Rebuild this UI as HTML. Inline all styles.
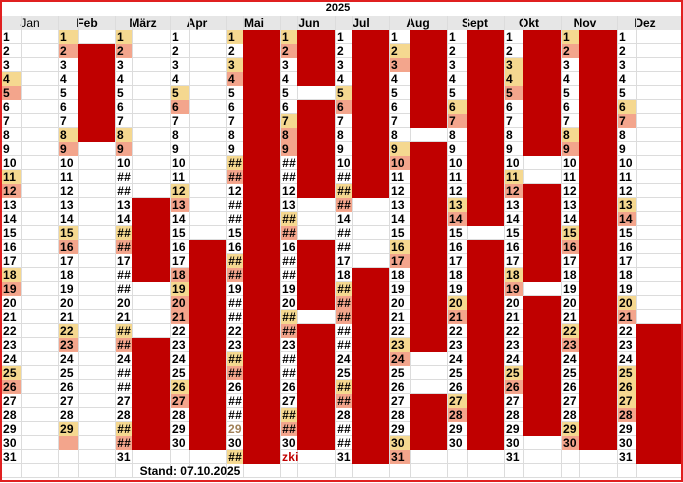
<!DOCTYPE html>
<html><head><meta charset="utf-8"><style>
*{margin:0;padding:0;box-sizing:border-box}
body{width:683px;height:483px;background:#fff;position:relative;overflow:hidden;font-family:"Liberation Sans",sans-serif}
.frame{position:absolute;left:0;top:0;width:683px;height:482px;border:2px solid #e02020}
.title{position:absolute;left:300px;top:1px;width:76px;text-align:center;font:bold 11px "Liberation Sans",sans-serif;line-height:14px}
.hdr{position:absolute;left:2px;top:16px;width:679px;height:14px;background:#e6e6e6}
.hdr span{position:absolute;top:0;font:bold 12px "Liberation Sans",sans-serif;line-height:14px;width:56px;text-align:center}
.grid{position:absolute;left:2px;top:30px;width:679px;height:448px;background:repeating-linear-gradient(to bottom,transparent 0 13px,#dcdcdc 13px 14px)}
.v{position:absolute;top:16px;height:462px;width:1px;background:#dcdcdc}
.col{position:absolute;top:30px}
.col b{display:block;height:14px;line-height:14px;font-size:12px;font-weight:bold;padding-left:1px;white-space:nowrap;letter-spacing:0.2px}
.col b.h{text-align:right;padding-right:1px;padding-left:0}
.y{background:#f5d890}.s{background:#f3a58c}
.bar{position:absolute;background:#c00000}
.stand{position:absolute;left:115px;top:464px;width:150px;text-align:center;font:bold 12px "Liberation Sans",sans-serif;line-height:14px}
</style></head><body>
<div class="grid"></div>
<div class="hdr">
<span style="left:0;font-weight:normal">Jan</span><span style="left:57px">Feb</span><span style="left:113px">März</span><span style="left:167px">Apr</span><span style="left:224px">Mai</span><span style="left:279px">Jun</span><span style="left:331px">Jul</span><span style="left:388px">Aug</span><span style="left:445px">Sept</span><span style="left:499px">Okt</span><span style="left:555px">Nov</span><span style="left:615px">Dez</span>
</div>
<div class="title">2025</div>
<div class="v" style="left:21px"></div><div class="v" style="left:58px"></div><div class="v" style="left:78px"></div><div class="v" style="left:115px"></div><div class="v" style="left:132px"></div><div class="v" style="left:170px"></div><div class="v" style="left:189px"></div><div class="v" style="left:226px"></div><div class="v" style="left:243px"></div><div class="v" style="left:280px"></div><div class="v" style="left:297px"></div><div class="v" style="left:335px"></div><div class="v" style="left:352px"></div><div class="v" style="left:389px"></div><div class="v" style="left:410px"></div><div class="v" style="left:447px"></div><div class="v" style="left:467px"></div><div class="v" style="left:504px"></div><div class="v" style="left:523px"></div><div class="v" style="left:561px"></div><div class="v" style="left:579px"></div><div class="v" style="left:617px"></div><div class="v" style="left:636px"></div>

<div class="bar" style="left:78px;width:37px;top:44px;height:98px"></div>
<div class="bar" style="left:132px;width:38px;top:198px;height:84px"></div>
<div class="bar" style="left:132px;width:38px;top:338px;height:112px"></div>
<div class="bar" style="left:189px;width:37px;top:240px;height:210px"></div>
<div class="bar" style="left:243px;width:37px;top:30px;height:434px"></div>
<div class="bar" style="left:297px;width:38px;top:30px;height:56px"></div>
<div class="bar" style="left:297px;width:38px;top:100px;height:98px"></div>
<div class="bar" style="left:297px;width:38px;top:240px;height:70px"></div>
<div class="bar" style="left:297px;width:38px;top:324px;height:126px"></div>
<div class="bar" style="left:352px;width:37px;top:30px;height:168px"></div>
<div class="bar" style="left:352px;width:37px;top:268px;height:196px"></div>
<div class="bar" style="left:410px;width:37px;top:30px;height:98px"></div>
<div class="bar" style="left:410px;width:37px;top:142px;height:210px"></div>
<div class="bar" style="left:410px;width:37px;top:394px;height:56px"></div>
<div class="bar" style="left:467px;width:37px;top:30px;height:196px"></div>
<div class="bar" style="left:467px;width:37px;top:240px;height:210px"></div>
<div class="bar" style="left:523px;width:38px;top:30px;height:126px"></div>
<div class="bar" style="left:523px;width:38px;top:184px;height:98px"></div>
<div class="bar" style="left:523px;width:38px;top:296px;height:140px"></div>
<div class="bar" style="left:579px;width:38px;top:30px;height:420px"></div>
<div class="bar" style="left:636px;width:45px;top:324px;height:140px"></div>

<div class="col" style="left:2px;width:19px">
<b>1</b><b>2</b><b>3</b><b class="y">4</b><b class="s">5</b><b>6</b><b>7</b><b>8</b><b>9</b><b>10</b><b class="y">11</b><b class="s">12</b><b>13</b><b>14</b><b>15</b><b>16</b><b>17</b><b class="y">18</b><b class="s">19</b><b>20</b><b>21</b><b>22</b><b>23</b><b>24</b><b class="y">25</b><b class="s">26</b><b>27</b><b>28</b><b>29</b><b>30</b><b>31</b>
</div>
<div class="col" style="left:59px;width:19px">
<b class="y">1</b><b class="s">2</b><b>3</b><b>4</b><b>5</b><b>6</b><b>7</b><b class="y">8</b><b class="s">9</b><b>10</b><b>11</b><b>12</b><b>13</b><b>14</b><b class="y">15</b><b class="s">16</b><b>17</b><b>18</b><b>19</b><b>20</b><b>21</b><b class="y">22</b><b class="s">23</b><b>24</b><b>25</b><b>26</b><b>27</b><b>28</b><b class="y">29</b><b class="s">&nbsp;</b><b>&nbsp;</b>
</div>
<div class="col" style="left:116px;width:16px">
<b class="y">1</b><b class="s">2</b><b>3</b><b>4</b><b>5</b><b>6</b><b>7</b><b class="y">8</b><b class="s">9</b><b>10</b><b class="h">##</b><b class="h">##</b><b>13</b><b>14</b><b class="h y">##</b><b class="h s">##</b><b>17</b><b class="h">##</b><b class="h">##</b><b>20</b><b>21</b><b class="h y">##</b><b class="h s">##</b><b>24</b><b class="h">##</b><b class="h">##</b><b>27</b><b>28</b><b class="h y">##</b><b class="h s">##</b><b>31</b>
</div>
<div class="col" style="left:171px;width:18px">
<b>1</b><b>2</b><b>3</b><b>4</b><b class="y">5</b><b class="s">6</b><b>7</b><b>8</b><b>9</b><b>10</b><b>11</b><b class="y">12</b><b class="s">13</b><b>14</b><b>15</b><b>16</b><b>17</b><b class="s">18</b><b class="y">19</b><b class="s">20</b><b class="s">21</b><b>22</b><b>23</b><b>24</b><b>25</b><b class="y">26</b><b class="s">27</b><b>28</b><b>29</b><b>30</b><b>&nbsp;</b>
</div>
<div class="col" style="left:227px;width:16px">
<b class="y">1</b><b>2</b><b class="y">3</b><b class="s">4</b><b>5</b><b>6</b><b>7</b><b>8</b><b>9</b><b class="h y">##</b><b class="h s">##</b><b>12</b><b class="h">##</b><b class="h">##</b><b>15</b><b>16</b><b class="h y">##</b><b class="h s">##</b><b>19</b><b class="h">##</b><b class="h">##</b><b>22</b><b>23</b><b class="h y">##</b><b class="h s">##</b><b>26</b><b class="h">##</b><b class="h">##</b><b style="color:#a08058">29</b><b>30</b><b class="h y">##</b>
</div>
<div class="col" style="left:281px;width:16px">
<b class="y">1</b><b class="s">2</b><b>3</b><b>4</b><b>5</b><b>6</b><b class="y">7</b><b class="s">8</b><b class="s">9</b><b class="h">##</b><b class="h">##</b><b>12</b><b>13</b><b class="h y">##</b><b class="h s">##</b><b>16</b><b class="h">##</b><b class="h">##</b><b>19</b><b>20</b><b class="h y">##</b><b class="h s">##</b><b>23</b><b class="h">##</b><b class="h">##</b><b>26</b><b>27</b><b class="h y">##</b><b class="h s">##</b><b>30</b><b style="color:#c00000">zki</b>
</div>
<div class="col" style="left:336px;width:16px">
<b>1</b><b>2</b><b>3</b><b>4</b><b class="y">5</b><b class="s">6</b><b>7</b><b>8</b><b>9</b><b>10</b><b class="h">##</b><b class="h y">##</b><b class="h s">##</b><b>14</b><b class="h">##</b><b class="h">##</b><b>17</b><b>18</b><b class="h y">##</b><b class="h s">##</b><b class="h s">##</b><b class="h">##</b><b class="h">##</b><b>24</b><b>25</b><b class="h y">##</b><b class="h s">##</b><b>28</b><b class="h">##</b><b class="h">##</b><b>31</b>
</div>
<div class="col" style="left:390px;width:20px">
<b>1</b><b class="y">2</b><b class="s">3</b><b>4</b><b>5</b><b>6</b><b>7</b><b>8</b><b class="y">9</b><b class="s">10</b><b>11</b><b>12</b><b>13</b><b>14</b><b>15</b><b class="y">16</b><b class="s">17</b><b>18</b><b>19</b><b>20</b><b>21</b><b>22</b><b class="y">23</b><b class="s">24</b><b>25</b><b>26</b><b>27</b><b>28</b><b>29</b><b class="y">30</b><b class="s">31</b>
</div>
<div class="col" style="left:448px;width:19px">
<b>1</b><b>2</b><b>3</b><b>4</b><b>5</b><b class="y">6</b><b class="s">7</b><b>8</b><b>9</b><b>10</b><b>11</b><b>12</b><b class="y">13</b><b class="s">14</b><b>15</b><b>16</b><b>17</b><b>18</b><b>19</b><b class="y">20</b><b class="s">21</b><b>22</b><b>23</b><b>24</b><b>25</b><b>26</b><b class="y">27</b><b class="s">28</b><b>29</b><b>30</b><b>&nbsp;</b>
</div>
<div class="col" style="left:505px;width:18px">
<b>1</b><b>2</b><b class="y">3</b><b class="y">4</b><b class="s">5</b><b>6</b><b>7</b><b>8</b><b>9</b><b>10</b><b class="y">11</b><b class="s">12</b><b>13</b><b>14</b><b>15</b><b>16</b><b>17</b><b class="y">18</b><b class="s">19</b><b>20</b><b>21</b><b>22</b><b>23</b><b>24</b><b class="y">25</b><b class="s">26</b><b>27</b><b>28</b><b>29</b><b>30</b><b>31</b>
</div>
<div class="col" style="left:562px;width:17px">
<b class="y">1</b><b class="s">2</b><b>3</b><b>4</b><b>5</b><b>6</b><b>7</b><b class="y">8</b><b class="s">9</b><b>10</b><b>11</b><b>12</b><b>13</b><b>14</b><b class="y">15</b><b class="s">16</b><b>17</b><b>18</b><b>19</b><b>20</b><b>21</b><b class="y">22</b><b class="s">23</b><b>24</b><b>25</b><b>26</b><b>27</b><b>28</b><b class="y">29</b><b class="s">30</b><b>&nbsp;</b>
</div>
<div class="col" style="left:618px;width:18px">
<b>1</b><b>2</b><b>3</b><b>4</b><b>5</b><b class="y">6</b><b class="s">7</b><b>8</b><b>9</b><b>10</b><b>11</b><b>12</b><b class="y">13</b><b class="s">14</b><b>15</b><b>16</b><b>17</b><b>18</b><b>19</b><b class="y">20</b><b class="s">21</b><b>22</b><b>23</b><b>24</b><b class="y">25</b><b class="y">26</b><b class="y">27</b><b class="s">28</b><b>29</b><b>30</b><b>31</b>
</div>

<div class="stand">Stand: 07.10.2025</div>
<div class="frame"></div>
</body></html>
